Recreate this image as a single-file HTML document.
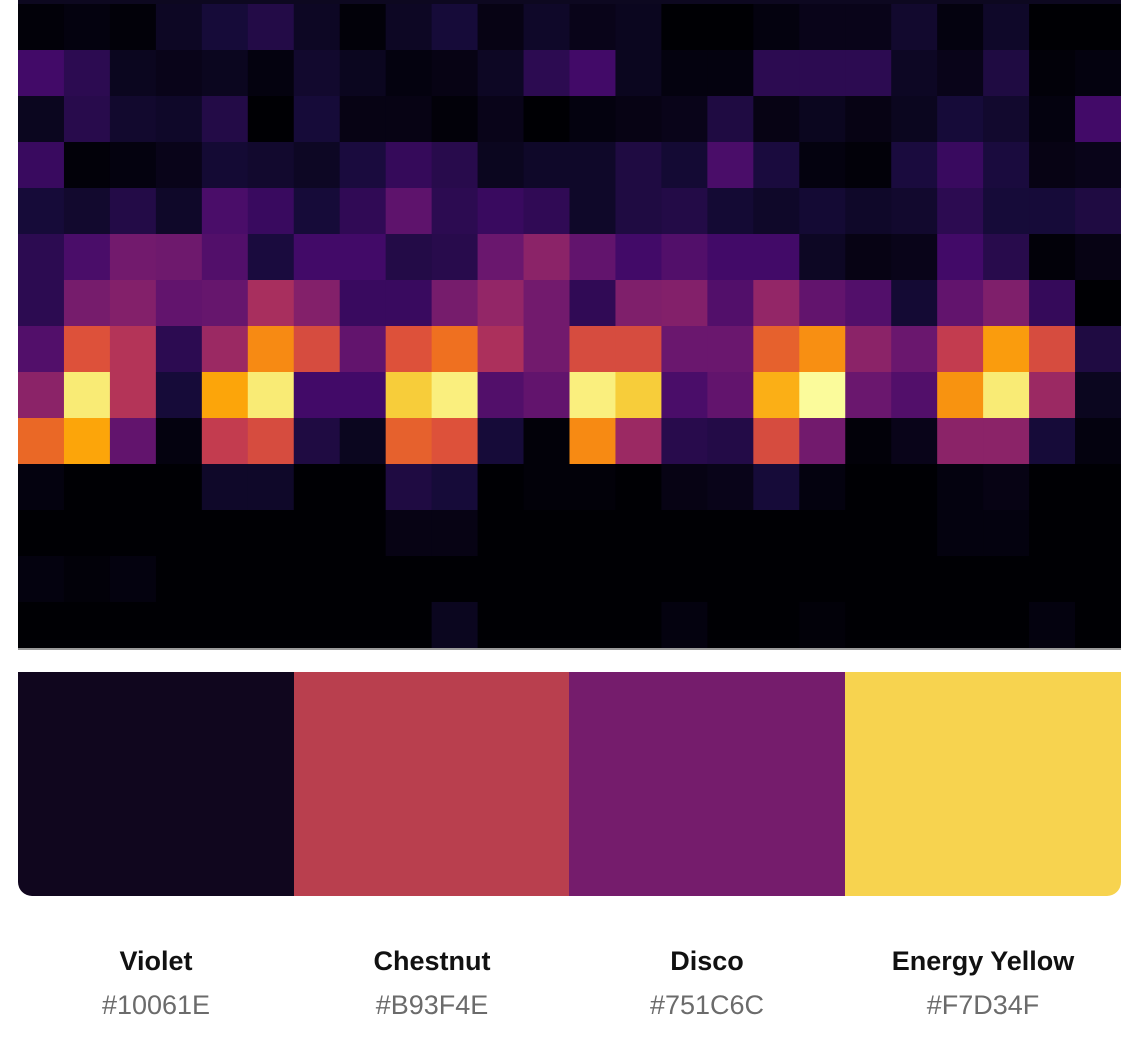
<!DOCTYPE html>
<html><head><meta charset="utf-8">
<style>
html,body{margin:0;padding:0;background:#fff;width:1135px;height:1055px;overflow:hidden;font-family:"Liberation Sans",sans-serif}
#heat{position:absolute;left:18px;top:0;width:1103px;height:652px}
.sw{position:absolute;top:672px;height:224px;width:276px}
.name{position:absolute;top:946px;width:276px;text-align:center;font-size:27px;font-weight:bold;color:#111}
.hex{position:absolute;top:990px;width:276px;text-align:center;font-size:27px;color:#6b6b6b}
</style></head><body>
<svg id="heat" width="1103" height="652" viewBox="0 0 1103 652"></svg>
<div class="sw" style="left:18px;background:#10061E;border-bottom-left-radius:14px"></div>
<div class="sw" style="left:294px;background:#B93F4E"></div>
<div class="sw" style="left:569px;background:#751C6C"></div>
<div class="sw" style="left:845px;width:276px;background:#F7D34F;border-bottom-right-radius:14px"></div>
<div class="name" style="left:18px">Violet</div>
<div class="hex" style="left:18px">#10061E</div>
<div class="name" style="left:294px">Chestnut</div>
<div class="hex" style="left:294px">#B93F4E</div>
<div class="name" style="left:569px">Disco</div>
<div class="hex" style="left:569px">#751C6C</div>
<div class="name" style="left:845px">Energy Yellow</div>
<div class="hex" style="left:845px">#F7D34F</div>
<script>
const row0=[0.01,0.02,0.01,0.06,0.1,0.13,0.06,0.01,0.06,0.1,0.03,0.07,0.04,0.05,0,0,0.02,0.04,0.04,0.08,0.02,0.07,0,0];
const row1=[0.2,0.15,0.05,0.04,0.05,0.02,0.08,0.05,0.02,0.03,0.06,0.15,0.2,0.05,0.02,0.02,0.15,0.15,0.15,0.06,0.04,0.12,0.01,0.02];
const row2=[0.05,0.14,0.08,0.07,0.13,0,0.1,0.03,0.03,0.01,0.04,0,0.02,0.03,0.04,0.12,0.03,0.05,0.03,0.05,0.1,0.08,0.02,0.2];
const row3=[0.18,0.01,0.02,0.04,0.09,0.08,0.06,0.11,0.17,0.14,0.05,0.07,0.07,0.12,0.09,0.22,0.11,0.02,0.01,0.11,0.18,0.11,0.03,0.04];
const row4=[0.1,0.08,0.13,0.07,0.22,0.18,0.1,0.16,0.27,0.15,0.18,0.16,0.07,0.12,0.13,0.09,0.07,0.09,0.07,0.08,0.15,0.1,0.1,0.12];
const row5=[0.15,0.22,0.32,0.31,0.24,0.11,0.2,0.2,0.13,0.14,0.3,0.38,0.28,0.2,0.24,0.2,0.2,0.06,0.03,0.04,0.2,0.14,0.01,0.03];
const row6=[0.15,0.33,0.36,0.28,0.29,0.45,0.36,0.18,0.18,0.33,0.4,0.32,0.16,0.35,0.36,0.24,0.4,0.28,0.24,0.09,0.28,0.35,0.17,0];
const row7=[0.24,0.6,0.48,0.15,0.42,0.74,0.58,0.28,0.6,0.68,0.46,0.32,0.58,0.58,0.3,0.3,0.64,0.75,0.38,0.3,0.52,0.78,0.58,0.12];
const row8=[0.38,0.95,0.48,0.1,0.8,0.95,0.2,0.2,0.88,0.96,0.24,0.28,0.96,0.88,0.22,0.28,0.82,0.99,0.3,0.24,0.76,0.95,0.42,0.05];
const row9=[0.66,0.8,0.28,0.02,0.52,0.58,0.12,0.05,0.64,0.6,0.1,0.01,0.74,0.42,0.14,0.13,0.58,0.32,0.01,0.04,0.38,0.38,0.1,0.02];
const row10=[0.02,0,0,0,0.07,0.07,0,0,0.12,0.1,0,0.01,0.01,0,0.03,0.04,0.1,0.02,0,0,0.02,0.03,0,0];
const row11=[0,0,0,0,0,0,0,0,0.03,0.03,0,0,0,0,0,0,0,0,0,0,0.02,0.02,0,0];
const row12=[0.02,0.01,0.02,0,0,0,0,0,0,0,0,0,0,0,0,0,0,0,0,0,0,0,0,0];
const row13=[0,0,0,0,0,0,0,0,0,0.05,0,0,0,0,0.02,0,0,0.01,0,0,0,0,0.02,0];
const rows=[row0,row1,row2,row3,row4,row5,row6,row7,row8,row9,row10,row11,row12,row13];
const stops=[[0,0,4],[22,11,57],[66,10,104],[106,23,110],[147,38,103],[188,55,84],[221,81,58],[243,120,25],[252,165,10],[246,215,70],[252,255,164]];
function inferno(t){t=Math.max(0,Math.min(1,t))*10;const i=Math.min(9,Math.floor(t)),f=t-i,a=stops[i],b=stops[i+1];
return 'rgb('+a.map((v,k)=>Math.round(v+(b[k]-v)*f)).join(',')+')';}
const svg=document.getElementById('heat');const NS='http://www.w3.org/2000/svg';
const W=1103,top0=4,rh=46,cw=W/24;
function xs(c){return c*cw}function ys(r){return top0+r*rh}
const s=document.createElementNS(NS,'rect');
s.setAttribute('x',0);s.setAttribute('y',0);s.setAttribute('width',W);s.setAttribute('height',4);s.setAttribute('fill','#0d0820');


svg.appendChild(s);
rows.forEach((row,r)=>row.forEach((v,c)=>{
const e=document.createElementNS(NS,'rect');
e.setAttribute('x',xs(c));e.setAttribute('y',ys(r));e.setAttribute('width',cw+0.6);e.setAttribute('height',rh+0.6);e.setAttribute('fill',inferno(v));


svg.appendChild(e);}));
const ln=document.createElementNS(NS,'rect');
ln.setAttribute('x',0);ln.setAttribute('y',648);ln.setAttribute('width',W);ln.setAttribute('height',2);ln.setAttribute('fill','#9a9a9a');


svg.appendChild(ln);
</script>
</body></html>
